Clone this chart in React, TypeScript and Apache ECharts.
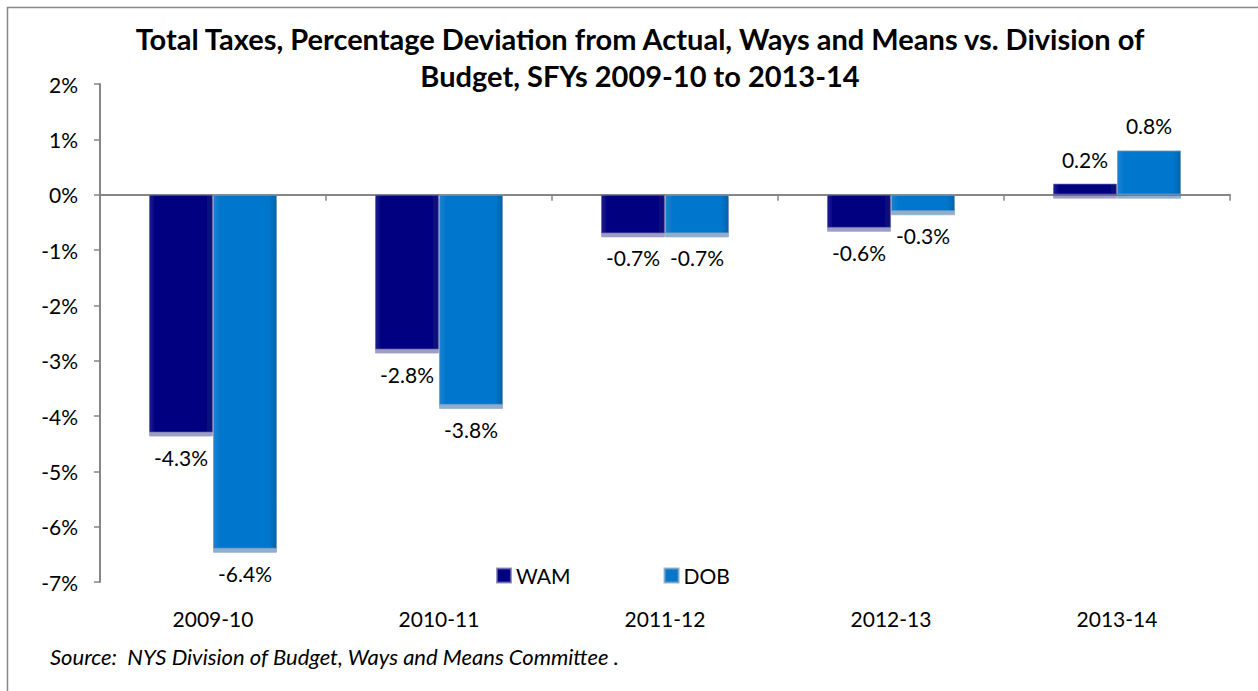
import React, { useEffect, useRef } from "react";
import * as echarts from "echarts";

const categories = ["2009-10", "2010-11", "2011-12", "2012-13", "2013-14"];
const wamValues = [-4.3, -2.8, -0.7, -0.6, 0.2];
const dobValues = [-6.4, -3.8, -0.7, -0.3, 0.8];
const yTicks = { min: -7, max: 2, interval: 1 };
const titleText = "Total Taxes, Percentage Deviation from Actual, Ways and Means vs. Division of\nBudget, SFYs 2009-10 to 2013-14";
const sourceText = "Source:  NYS Division of Budget, Ways and Means Committee .";

const FONT = "Lato, 'Open Sans', sans-serif";
const AXIS = "#868686";
const FS = 21;

function toItems(values: number[]) {
  return values.map((v) => ({
    value: v,
    label: { position: v < 0 ? "bottom" : "top" },
  }));
}

function hGrad(edge: string, base: string, edge2: string) {
  return new echarts.graphic.LinearGradient(0, 0, 1, 0, [
    { offset: 0, color: edge },
    { offset: 0.1, color: base },
    { offset: 0.88, color: base },
    { offset: 1, color: edge2 },
  ]);
}

export default function App() {
  const ref = useRef<HTMLDivElement>(null);
  useEffect(() => {
    if (!ref.current) return;
    const chart = echarts.init(ref.current, undefined, { renderer: "svg" });
    const labelCommon = {
      show: true,
      distance: 14,
      color: "#000",
      fontSize: FS,
      fontFamily: FONT,
      formatter: (p: any) => p.value.toFixed(1) + "%",
    };
    chart.setOption({
      animation: false,
      backgroundColor: "#fff",
      textStyle: { fontFamily: FONT },
      graphic: [
        {
          type: "rect",
          shape: { x: 7.5, y: 7.5, width: 1400, height: 900 },
          style: { fill: "none", stroke: AXIS, lineWidth: 1.5 },
          silent: true,
        },
        {
          type: "text",
          x: 640,
          y: 20,
          style: {
            text: titleText,
            fill: "#000",
            font: "bold 29px " + FONT,
            textAlign: "center",
            lineHeight: 37,
          },
        },
        {
          type: "text",
          x: 50,
          y: 645,
          style: {
            text: sourceText,
            fill: "#000",
            font: "italic 22px " + FONT,
          },
        },
      ],
      legend: {
        left: 491,
        top: 560,
        itemWidth: 14,
        itemHeight: 14,
        itemGap: 93,
        icon: "rect",
        textStyle: { fontSize: FS, color: "#000", fontFamily: FONT },
        data: ["WAM", "DOB"],
      },
      grid: { left: 100, right: 28, top: 84, bottom: 109, containLabel: false },
      xAxis: [
        {
          type: "category",
          data: categories,
          axisLine: { onZero: true, lineStyle: { color: AXIS, width: 2 } },
          axisTick: { show: true, length: 6, lineStyle: { color: AXIS, width: 1.5 } },
          axisLabel: { show: false },
        },
        {
          type: "category",
          data: categories,
          position: "bottom",
          axisLine: { show: false, onZero: false },
          axisTick: { show: false },
          axisLabel: { show: true, margin: 26, fontSize: FS, color: "#000", fontFamily: FONT },
        },
      ],
      yAxis: {
        type: "value",
        min: yTicks.min,
        max: yTicks.max,
        interval: yTicks.interval,
        axisLine: { show: true, lineStyle: { color: AXIS, width: 2 } },
        axisTick: { show: true, length: 6, lineStyle: { color: AXIS, width: 1.5 } },
        splitLine: { show: false },
        axisLabel: {
          margin: 22,
          fontSize: FS,
          color: "#000",
          fontFamily: FONT,
          formatter: (v: number) => v + "%",
        },
      },
      series: [
        {
          name: "WAM",
          type: "bar",
          xAxisIndex: 0,
          barWidth: 64,
          barGap: "0%",
          data: toItems(wamValues),
          label: labelCommon,
          itemStyle: {
            color: hGrad("#1c1c90", "#000080", "#14147a"),
            borderColor: "rgba(110,110,170,0.7)",
            borderWidth: 1,
            shadowColor: "rgba(90,90,160,0.6)",
            shadowOffsetY: 4,
            shadowOffsetX: 0,
            shadowBlur: 1,
          },
        },
        {
          name: "DOB",
          type: "bar",
          xAxisIndex: 0,
          barWidth: 64,
          barGap: "0%",
          data: toItems(dobValues),
          label: labelCommon,
          itemStyle: {
            color: hGrad("#1a82d2", "#0477cc", "#0563aa"),
            borderColor: "rgba(130,160,190,0.8)",
            borderWidth: 1,
            shadowColor: "rgba(70,120,170,0.6)",
            shadowOffsetY: 4,
            shadowOffsetX: 0,
            shadowBlur: 1,
          },
        },
      ],
    });
    return () => chart.dispose();
  }, []);
  return (
    <div
      ref={ref}
      style={{ position: "fixed", left: 0, top: 0, width: 1258, height: 691, background: "#fff" }}
    />
  );
}
